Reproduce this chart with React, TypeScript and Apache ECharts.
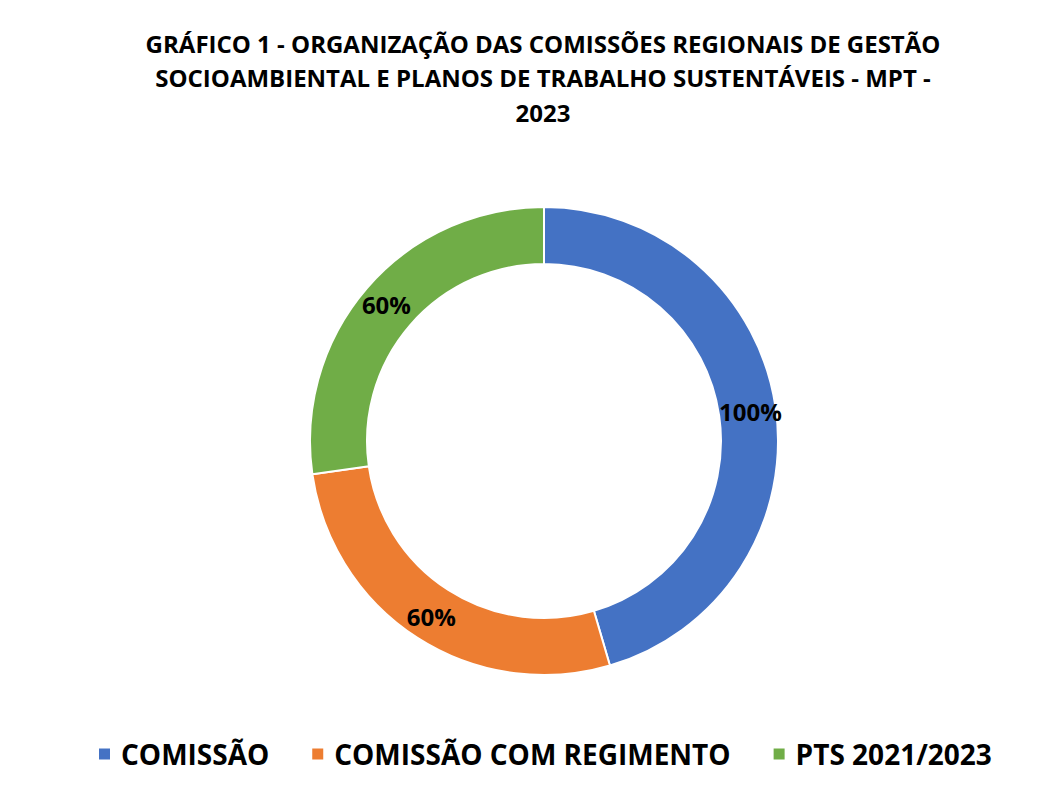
import React, { useEffect, useRef } from "react";
import * as echarts from "echarts";

const categories = ["COMISSÃO", "COMISSÃO COM REGIMENTO", "PTS 2021/2023"];
const values = [100, 60, 60];
const colors = ["#4472C4", "#ED7D31", "#70AD47"];
const titleText =
  "GRÁFICO 1 - ORGANIZAÇÃO DAS COMISSÕES REGIONAIS DE GESTÃO\nSOCIOAMBIENTAL E PLANOS DE TRABALHO SUSTENTÁVEIS - MPT -\n2023";

const FONT = "'Open Sans', sans-serif";

export default function App() {
  const ref = useRef<HTMLDivElement>(null);
  useEffect(() => {
    const chart = echarts.init(ref.current!, null, { renderer: "svg" });
    chart.setOption({
      animation: false,
      backgroundColor: "#ffffff",
      title: {
        text: titleText,
        left: 538,
        top: 21,
        textAlign: "center",
        textStyle: {
          fontFamily: FONT,
          fontWeight: "bold",
          fontSize: 24,
          lineHeight: 34.5,
          color: "#000",
        },
      },
      legend: {
        bottom: 12,
        left: 92,
        itemWidth: 13,
        itemHeight: 13,
        itemGap: 41,
        icon: "rect",
        textStyle: {
          fontFamily: FONT,
          fontWeight: "bold",
          fontSize: 28,
          color: "#000",
          padding: [0, 0, 0, 5],
        },
        data: categories,
      },
      series: [
        {
          type: "pie",
          center: [544, 441],
          radius: [177, 234],
          startAngle: 90,
          clockwise: true,
          label: {
            show: true,
            position: "inside",
            formatter: (p: any) => p.value + "%",
            fontFamily: FONT,
            fontWeight: "bold",
            fontSize: 24,
            color: "#000",
          },
          labelLine: { show: false },
          itemStyle: { borderColor: "#fff", borderWidth: 2 },
          emphasis: { disabled: true },
          data: categories.map((c, i) => ({
            name: c,
            value: values[i],
            itemStyle: { color: colors[i] },
          })),
        },
      ],
    });
    return () => chart.dispose();
  }, []);
  return (
    <div
      ref={ref}
      style={{ position: "absolute", left: 0, top: 0, width: 1050, height: 785 }}
    />
  );
}
